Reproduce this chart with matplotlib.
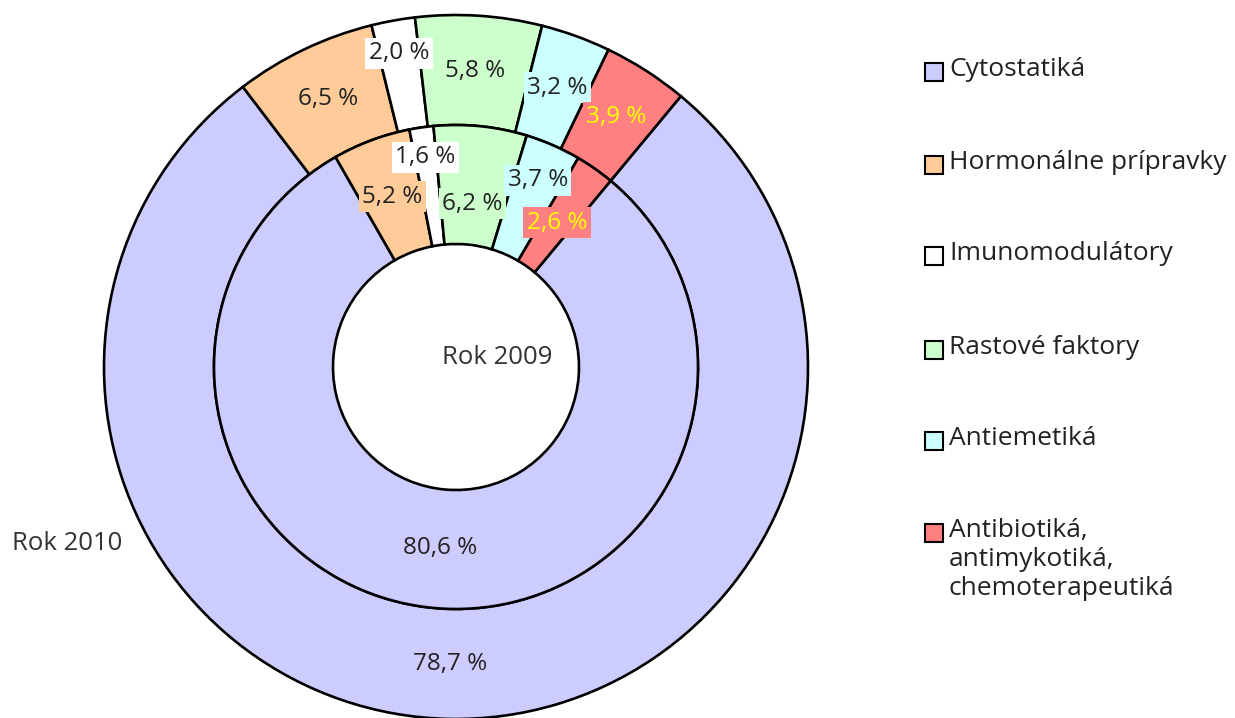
import numpy as np
import matplotlib.pyplot as plt
from matplotlib.patches import Rectangle

plt.rcParams['font.family'] = ['Open Sans', 'DejaVu Sans']

categories = ['Cytostatiká', 'Hormonálne prípravky', 'Imunomodulátory',
              'Rastové faktory', 'Antiemetiká',
              'Antibiotiká,\nantimykotiká,\nchemoterapeutiká']
colors = ['#CCCCFF', '#FFCC99', '#FFFFFF', '#CCFFCC', '#CCFFFF', '#FF8080']
share_2010 = [78.7, 6.5, 2.0, 5.8, 3.2, 3.9]
share_2009 = [80.6, 5.2, 1.6, 6.2, 3.7, 2.6]

W, H = 1235, 718
cx, cy, R = 456, 367, 352          # pie centre and outer radius in pixels
r_mid, r_hole = 242 / R, 123 / R

fig = plt.figure(figsize=(W / 100, H / 100), dpi=100)
ax = fig.add_axes([(cx - R) / W, (H - cy - R) / H, 2 * R / W, 2 * R / H])

wp = dict(edgecolor='black', linewidth=1.9)
outer, _ = ax.pie(share_2010, radius=1, colors=colors, startangle=50.3,
                  counterclock=False, wedgeprops=dict(width=1 - r_mid, **wp))
inner, _ = ax.pie(share_2009, radius=r_mid, colors=colors, startangle=50.3,
                  counterclock=False, wedgeprops=dict(width=r_mid - r_hole, **wp))
for w in outer + inner:
    w.set_clip_on(False)
ax.set_xlim(-1, 1)
ax.set_ylim(-1, 1)
ax.set_aspect('equal')
ax.axis('off')

def label_ring(wedges, values, r, nudge):
    for i, (w, v) in enumerate(zip(wedges, values)):
        ang = np.deg2rad((w.theta1 + w.theta2) / 2)
        rr = r + nudge.get(i, 0)
        col = '#FFFF00' if i == 5 else '#222222'
        ax.text(rr * np.cos(ang), rr * np.sin(ang),
                f"{v:.1f} %".replace('.', ','), ha='center', va='center',
                fontsize=17.5, color=col,
                bbox=dict(facecolor=colors[i], edgecolor='none', pad=2.5))

label_ring(outer, share_2010, 297 / R, {2: 22 / R})
label_ring(inner, share_2009, 182 / R, {2: 30 / R, 3: -18 / R, 4: 22 / R, 5: -6 / R})

ax.text((497 - cx) / R, (cy - 358) / R, 'Rok 2009', ha='center', va='center',
        fontsize=18.5, color='#333333')
fig.text(67 / W, 1 - 543 / H, 'Rok 2010', ha='center', va='center',
         fontsize=18.5, color='#333333')

# legend drawn by hand so the box sits on the first text line
row_y = [72, 165, 256, 350, 441, 533]
for name, col, y in zip(categories, colors, row_y):
    fig.patches.append(Rectangle((925 / W, 1 - (y + 9) / H), 18 / W, 18 / H,
                                 transform=fig.transFigure, facecolor=col,
                                 edgecolor='black', linewidth=1.5))
    fig.text(949 / W, 1 - (y - 15) / H, name, ha='left', va='top',
             fontsize=19, color='#222222', linespacing=1.22)

fig.savefig('out.png', dpi=100)
